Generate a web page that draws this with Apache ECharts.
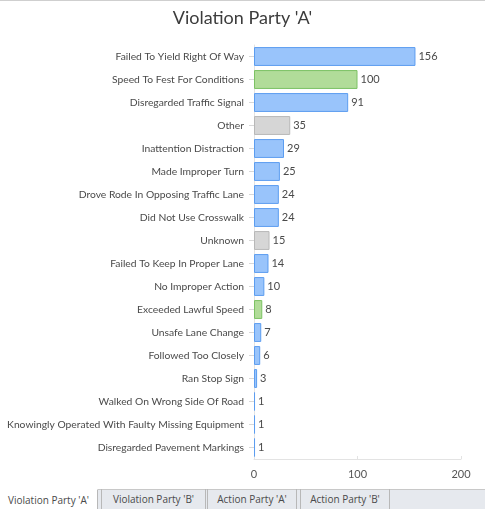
<html>
  <head>
    <meta http-equiv="Content-Type" content="text/html; charset=utf-8" />
    <title>Violation Party 'A'</title>
    <style>
      body { margin: 0; background: white; }
      .container { position: relative; width: 485px; height: 509px; border-top: 1px solid #cfcfcf; box-sizing: border-box; overflow: hidden; }
      #bar { position: absolute; left: 0; top: 0; width: 485px; height: 488px; }
      .tabs { position: absolute; left: 0; top: 488px; width: 485px; height: 21px; background: #e6e9ee; border-top: 1px solid #c8c8c8; box-sizing: border-box; font-family: "Open Sans", sans-serif; font-size: 10px; color: #4a4a4a; }
      .tab { position: absolute; top: -1px; height: 22px; line-height: 21px; text-align: center; box-sizing: border-box; border-right: 1px solid #b8b8b8; }
      .tab.active { background: white; border-top: 1px solid white; }
    </style>
  </head>
  <body>
    <div class="container">
      <div id="bar"></div>
      <div class="tabs">
        <div class="tab active" style="left:0;width:98px;">Violation Party 'A'</div>
        <div class="tab" style="left:101px;width:105px;border-left:1px solid #b8b8b8;">Violation Party 'B'</div>
        <div class="tab" style="left:207px;width:90px;border-left:1px solid #b8b8b8;">Action Party 'A'</div>
        <div class="tab" style="left:300px;width:90px;border-left:1px solid #b8b8b8;">Action Party 'B'</div>
      </div>
    </div>
    <script type="text/javascript" src="https://cdn.jsdelivr.net/npm/echarts@6/dist/echarts.min.js"></script>
    <script>
      // 数据
      var categories = [
        'Failed To Yield Right Of Way', 'Speed To Fest For Conditions', 'Disregarded Traffic Signal',
        'Other', 'Inattention Distraction', 'Made Improper Turn', 'Drove Rode In Opposing Traffic Lane',
        'Did Not Use Crosswalk', 'Unknown', 'Failed To Keep In Proper Lane', 'No Improper Action',
        'Exceeded Lawful Speed', 'Unsafe Lane Change', 'Followed Too Closely', 'Ran Stop Sign',
        'Walked On Wrong Side Of Road', 'Knowingly Operated With Faulty Missing Equipment',
        'Disregarded Pavement Markings'
      ];
      var counts = [156, 100, 91, 35, 29, 25, 24, 24, 15, 14, 10, 8, 7, 6, 3, 1, 1, 1];
      var groups = ['blue', 'green', 'blue', 'gray', 'blue', 'blue', 'blue', 'blue', 'gray',
                    'blue', 'blue', 'green', 'blue', 'blue', 'blue', 'blue', 'blue', 'blue'];
      var xTicks = [0, 100, 200];

      var palette = {
        blue:  {fill: '#99c4fb', line: '#5c9df0'},
        green: {fill: '#b1dc99', line: '#7cc264'},
        gray:  {fill: '#d6d6d6', line: '#b8b8b8'}
      };

      var myCharts = echarts.init(document.getElementById('bar'));
      var option =
      {
        animation: false,
        textStyle: {fontFamily: 'Lato, sans-serif'},
        title: {
          text: "Violation Party 'A'", left: 'center', top: 3,
          textStyle: {fontSize: 18, fontWeight: 'normal', color: '#3c3c3c', fontFamily: 'Lato, sans-serif'}
        },
        grid: {left: 254, right: 24, top: 44, bottom: 30, containLabel: false, outerBoundsMode: 'none'},
        xAxis: {
          type: 'value', min: xTicks[0], max: xTicks[2], interval: 100,
          axisLine: {show: true, lineStyle: {color: '#e3e3e3'}},
          axisTick: {show: true, inside: true, length: 3, lineStyle: {color: '#e3e3e3'}},
          splitLine: {show: false},
          axisLabel: {color: '#555', fontSize: 11, margin: 10}
        },
        yAxis: {
          type: 'category', inverse: true, data: categories,
          axisLine: {show: true, lineStyle: {color: '#e3e3e3'}},
          axisTick: {show: true, alignWithLabel: true, length: 5, lineStyle: {color: '#d8d8d8'}},
          axisLabel: {color: '#4a4a4a', fontSize: 10.3, margin: 10}
        },
        series: [{
          type: 'bar',
          barCategoryGap: '18%',
          data: counts.map(function(v, i) {
            var c = palette[groups[i]];
            return {value: v, itemStyle: {color: c.fill, borderColor: c.line, borderWidth: 1}};
          }),
          label: {show: true, position: 'right', distance: 3, color: '#4a4a4a', fontSize: 11}
        }]
      };
      myCharts.setOption(option);
    </script>
  </body>
</html>
